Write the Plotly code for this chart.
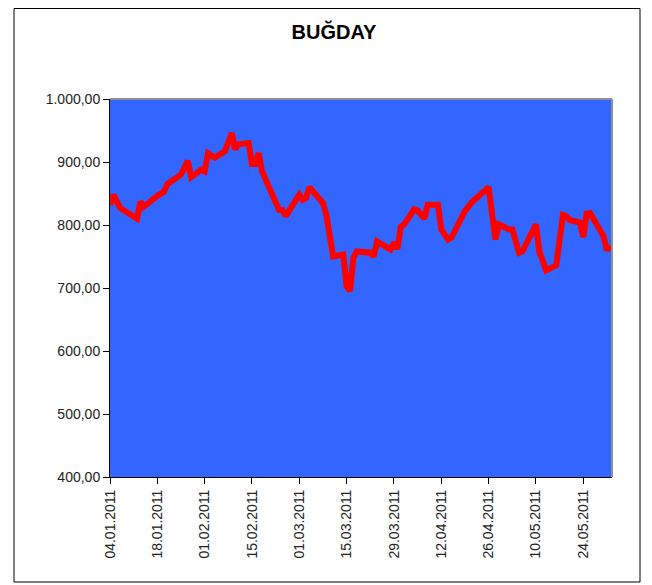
import plotly.graph_objects as go

dates = [
    "2011-01-04", "2011-01-05", "2011-01-07", "2011-01-10", "2011-01-12", "2011-01-13",
    "2011-01-14", "2011-01-18", "2011-01-20", "2011-01-21", "2011-01-25", "2011-01-27",
    "2011-01-28", "2011-01-31", "2011-02-01", "2011-02-02", "2011-02-04", "2011-02-07",
    "2011-02-08", "2011-02-09", "2011-02-10", "2011-02-11", "2011-02-14", "2011-02-15",
    "2011-02-16", "2011-02-17", "2011-02-18", "2011-02-23", "2011-02-24", "2011-02-25",
    "2011-02-28", "2011-03-01", "2011-03-02", "2011-03-03", "2011-03-04", "2011-03-08",
    "2011-03-09", "2011-03-10", "2011-03-11", "2011-03-14", "2011-03-15", "2011-03-16",
    "2011-03-17", "2011-03-18", "2011-03-22", "2011-03-23", "2011-03-24", "2011-03-28",
    "2011-03-29", "2011-03-30", "2011-03-31", "2011-04-01", "2011-04-04", "2011-04-05",
    "2011-04-07", "2011-04-08", "2011-04-11", "2011-04-12", "2011-04-14", "2011-04-15",
    "2011-04-19", "2011-04-21", "2011-04-26", "2011-04-28", "2011-04-29", "2011-05-02",
    "2011-05-03", "2011-05-05", "2011-05-06", "2011-05-10", "2011-05-11", "2011-05-13",
    "2011-05-16", "2011-05-18", "2011-05-19", "2011-05-20", "2011-05-23", "2011-05-24",
    "2011-05-25", "2011-05-26", "2011-05-30", "2011-05-31", "2011-06-01",
]
prices = [
    832, 848, 827, 816, 810, 837,
    829, 846, 853, 865, 880, 902,
    876, 888, 885, 914, 907, 917,
    932, 946, 920, 928, 930, 897,
    897, 914, 885, 824, 824, 814,
    840, 848, 840, 843, 860, 835,
    816, 774, 750, 753, 703, 695,
    748, 758, 756, 750, 774, 761,
    772, 762, 797, 801, 825, 823,
    810, 832, 832, 793, 777, 780,
    822, 836, 860, 777, 801, 793,
    793, 756, 758, 801, 758, 728,
    736, 816, 814, 808, 804, 781,
    818, 819, 782, 760, 767,
]

title_text = "BUĞDAY"
y_ticks = [400, 500, 600, 700, 800, 900, 1000]

W, H = 652, 585
L, R, T, B = 102, 48, 91, 116
pw, ph = W - L - R, H - T - B

def px_x(p):
    return (p - L) / pw

def px_y(p):
    return (H - B - p) / ph

FONT = "Liberation Sans, Arial, sans-serif"

fig = go.Figure()
fig.add_trace(go.Scatter(
    x=dates, y=prices, mode="lines",
    line=dict(color="#FF0000", width=6),
    hoverinfo="x+y",
))

fig.update_layout(
    width=W, height=H,
    margin=dict(l=L, r=R, t=T, b=B),
    paper_bgcolor="white",
    plot_bgcolor="#3366FF",
    separators=",.",
    showlegend=False,
    font=dict(family=FONT, size=14, color="black"),
    title=dict(text="<b>" + title_text + "</b>", x=0.5, xanchor="center",
               y=1 - 24 / H, yanchor="middle",
               font=dict(size=20, color="black", family=FONT)),
    xaxis=dict(
        type="date",
        range=["2011-01-04", "2011-06-01 12:00"],
        tick0="2011-01-04", dtick=14 * 86400000,
        tickformat="%d.%m.%Y", tickangle=-90,
        showgrid=False, zeroline=False,
        showline=True, linecolor="black", linewidth=1,
        ticks="outside", ticklen=6, tickcolor="black",
        tickfont=dict(size=14, color="#222222"),
    ),
    yaxis=dict(
        range=[400, 1000],
        tickvals=y_ticks, tickformat=",.2f",
        showgrid=False, zeroline=False,
        showline=True, linecolor="black", linewidth=1,
        ticks="outside", ticklen=6, tickcolor="black",
        tickfont=dict(size=14, color="#222222"),
    ),
    shapes=[
        dict(type="line", xref="paper", yref="paper", x0=0, x1=1, y0=1, y1=1,
             line=dict(color="#909090", width=2)),
        dict(type="line", xref="paper", yref="paper", x0=1, x1=1, y0=0, y1=1,
             line=dict(color="#909090", width=2)),
        dict(type="rect", xref="paper", yref="paper",
             x0=px_x(6), x1=px_x(632), y0=px_y(574), y1=px_y(0.5),
             line=dict(color="black", width=1), fillcolor="rgba(0,0,0,0)"),
    ],
)

fig.write_html("out.html")
